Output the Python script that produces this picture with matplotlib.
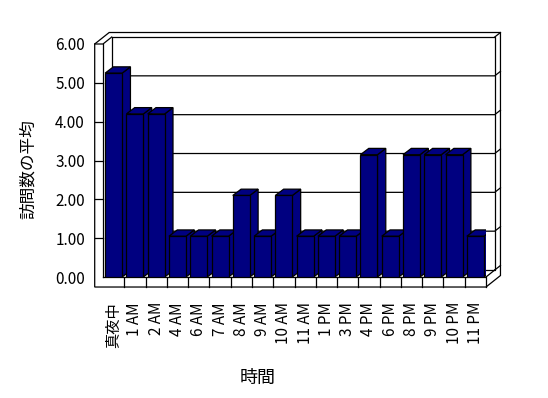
import matplotlib.pyplot as plt
from matplotlib.patches import Polygon

plt.rcParams['font.family'] = ['Noto Sans CJK JP', 'DejaVu Sans']

hours = ['真夜中', '1 AM', '2 AM', '4 AM', '6 AM', '7 AM', '8 AM', '9 AM', '10 AM',
         '11 AM', '1 PM', '3 PM', '4 PM', '6 PM', '8 PM', '9 PM', '10 PM', '11 PM']
visits = [5.25, 4.2, 4.2, 1.05, 1.05, 1.05, 2.1, 1.05, 2.1,
          1.05, 1.05, 1.05, 3.15, 1.05, 3.15, 3.15, 3.15, 1.05]
y_ticks = [0, 1, 2, 3, 4, 5, 6]

navy = '#000080'
n = len(hours)
bw = 0.8                  # bar width (category units)
dx, dy = 0.39, 0.162      # bar depth shift
wx, wy = 0.41, 0.18       # back wall inner face shift
ox, oy = 0.68, 0.296      # back wall outer face shift
tx = 0.39                 # left wall thickness
ft = 0.258                # floor thickness
top = y_ticks[-1]
x0, x1 = -0.5, n - 0.5

fig = plt.figure(figsize=(5.48, 3.98), dpi=100)
ax = fig.add_axes([103 / 548, (398 - 277) / 398, 383 / 548, 233 / 398])
ax.set_xlim(x0, x1)
ax.set_ylim(0, top)
for s in ax.spines.values():
    s.set_visible(False)

lw = 0.9
kw = dict(color='black', lw=lw, clip_on=False, zorder=1)

# walls and floor
ax.add_patch(Polygon([(x0 - tx, -ft), (x0 - tx, top), (x0 - tx + ox, top + oy),
                      (x1 + ox, top + oy), (x1 + ox, -ft + oy), (x1, -ft)],
                     closed=True, fc='white', ec='black', lw=lw, clip_on=False, zorder=0.5))
ax.plot([x0 + wx, x0 + wx, x1 + wx, x1 + wx, x0 + wx],
        [wy, top + wy, top + wy, wy, wy], **kw)
ax.plot([x0 - tx, x0, x0 + wx], [top, top, top + wy], **kw)
ax.plot([x0, x0], [0, top], **kw)
ax.plot([x1 + wx, x1 + ox], [top + wy, top + oy], **kw)
ax.plot([x1, x1 + wx], [0, wy], **kw)
ax.plot([x1 + wx, x1 + ox], [wy, oy], **kw)
ax.plot([x0, x1, x1], [0, 0, -ft], **kw)
for k in y_ticks[1:-1]:
    ax.plot([x0 + wx, x1 + wx, x1 + ox], [k + wy, k + wy, k + oy], **kw)
    ax.plot([x0 - tx, x0], [k, k], **kw)
for i in range(1, n):
    ax.plot([i - 0.5, i - 0.5], [-ft, 0], **kw)

# bars, drawn left to right so nearer faces cover farther ones
for i, v in enumerate(visits):
    z = 3 + i * 0.01
    l, r = i - bw / 2, i + bw / 2
    ax.add_patch(Polygon([(r, 0), (r + dx, dy), (r + dx, v + dy), (r, v)],
                         closed=True, fc=navy, ec='black', lw=lw, zorder=z))
    ax.add_patch(Polygon([(l, v), (l + dx, v + dy), (r + dx, v + dy), (r, v)],
                         closed=True, fc=navy, ec='black', lw=lw, zorder=z))
    ax.bar(i, v, width=bw, color=navy, edgecolor='black', linewidth=lw, zorder=z + 0.005)

ax.set_xticks(range(n))
ax.set_xticklabels(hours, rotation=90, fontsize=11)
ax.set_yticks(y_ticks)
ax.set_yticklabels(['%.2f' % t for t in y_ticks], fontsize=11)
ax.tick_params(axis='x', length=0, pad=18)
ax.tick_params(axis='y', length=0, pad=13)

ax.set_xlabel('時間', fontsize=13)
ax.xaxis.set_label_coords(0.405, -0.433)
ax.xaxis.label.set_va('center')
ax.set_ylabel('訪問数の平均', fontsize=12)
ax.yaxis.set_label_coords(-0.196, 0.464)
ax.yaxis.label.set_va('center')

fig.savefig('out.png', dpi=100)
